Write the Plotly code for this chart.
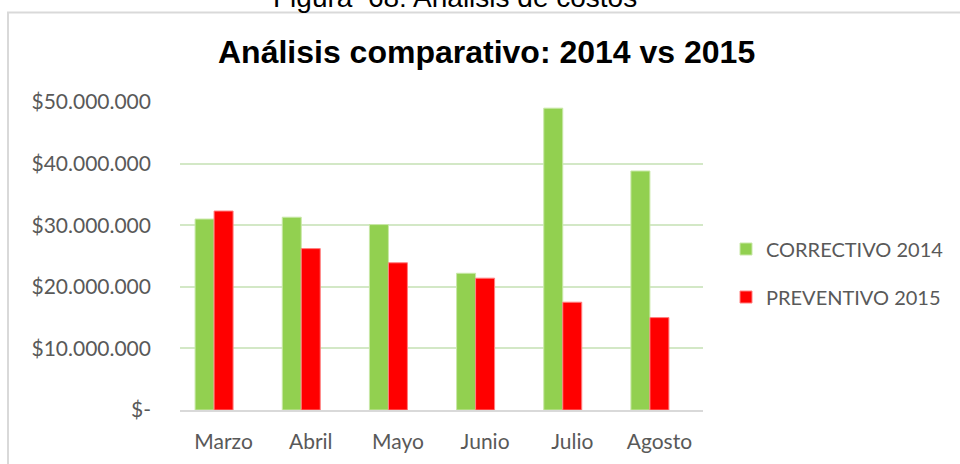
import plotly.graph_objects as go

categories = ["Marzo", "Abril", "Mayo", "Junio", "Julio", "Agosto"]
correctivo_2014 = [31.0e6, 31.3e6, 30.1e6, 22.2e6, 49.0e6, 38.8e6]
preventivo_2015 = [32.3e6, 26.2e6, 23.9e6, 21.4e6, 17.5e6, 15.0e6]
tick_vals = [0, 10e6, 20e6, 30e6, 40e6, 50e6]
tick_text = ["$-", "$10.000.000", "$20.000.000", "$30.000.000", "$40.000.000", "$50.000.000"]

TXT = "#595959"
FONT = "Lato, Carlito, Calibri, sans-serif"
FS = 21

L, R, T, B = 180, 257, 102, 54
W, H = 960, 464
pw, ph = W - L - R, H - T - B

bw = 0.218
fig = go.Figure()
fig.add_trace(go.Bar(x=categories, y=correctivo_2014, name="CORRECTIVO 2014",
                     marker=dict(color="#92D050", line=dict(color="#C9E8A8", width=1)),
                     width=bw, offset=-1.5 * bw, legendgroup="a"))
fig.add_trace(go.Bar(x=categories, y=preventivo_2015, name="PREVENTIVO 2015",
                     marker=dict(color="#FF0000", line=dict(color="#FF8080", width=1)),
                     width=bw, offset=-0.5 * bw, legendgroup="b"))

def px_x(p):
    return (p - L) / pw

def px_y(p):
    return (H - B - p) / ph

fig.update_layout(
    width=W, height=H,
    margin=dict(l=L, r=R, t=T, b=B, autoexpand=False),
    paper_bgcolor="white", plot_bgcolor="white",
    barmode="overlay",
    font=dict(family=FONT, color=TXT, size=FS),
    showlegend=True,
    legend=dict(x=px_x(726), y=px_y(273), xanchor="left", yanchor="middle",
                font=dict(family=FONT, size=20, color=TXT),
                tracegroupgap=19, itemwidth=30, bgcolor="rgba(0,0,0,0)"),
    xaxis=dict(type="category", range=[-0.5, 5.5], showgrid=False,
               showline=True, linecolor="#D9D9D9", linewidth=1.5,
               ticks="", ticklabelstandoff=12, automargin=False,
               tickfont=dict(family=FONT, size=FS, color=TXT)),
    yaxis=dict(range=[0, 50e6], tickvals=tick_vals, ticktext=tick_text,
               showgrid=True, gridcolor="#D3E8C6", gridwidth=1.5,
               zeroline=False, showline=False, ticks="", ticklabelstandoff=28,
               automargin=False,
               tickfont=dict(family=FONT, size=FS, color=TXT)),
    shapes=[dict(type="rect", xref="paper", yref="paper",
                 x0=px_x(8), x1=px_x(975), y0=px_y(480), y1=px_y(12.5),
                 line=dict(color="#D9D9D9", width=2), fillcolor="rgba(0,0,0,0)",
                 layer="below")],
    annotations=[
        dict(text="<b>Análisis comparativo: 2014 vs 2015</b>", xref="paper", yref="paper",
             x=px_x(486), y=px_y(52), xanchor="center", yanchor="middle",
             showarrow=False,
             font=dict(family="Liberation Sans, Arial, sans-serif", size=32, color="black")),
        dict(text="Figura  68: Análisis de costos", xref="paper", yref="paper",
             x=px_x(455), y=px_y(-2.5), xanchor="center", yanchor="middle",
             showarrow=False,
             font=dict(family="Liberation Sans, Arial, sans-serif", size=28, color="black")),
    ],
)

fig.write_html("out.html")
